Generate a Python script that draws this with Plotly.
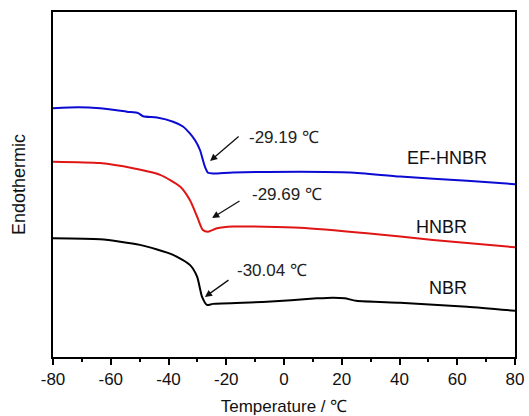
import plotly.graph_objects as go

# Temperature (°C) and heat flow (arbitrary units, offset curves)
ef_hnbr_x = [-80, -71.3, -63.7, -54.4, -50.5, -48.8, -44.0, -38.4, -35.0, -32.6, -30.8, -29.1, -27.4, -26.3, -24.5, -17.7, 5.5, 22.9, 40.2, 63.4, 80]
ef_hnbr_y = [72.1, 72.4, 72.1, 71.1, 70.7, 69.8, 69.4, 68.2, 66.8, 64.8, 62.8, 60.0, 55.2, 53.4, 53.2, 53.5, 53.7, 53.5, 52.3, 51.1, 50.1]

hnbr_x = [-80, -63.7, -52.3, -42.9, -36.0, -32.6, -30.1, -28.1, -26.3, -23.2, -17.7, 5.5, 28.7, 51.6, 80]
hnbr_y = [56.6, 56.2, 54.7, 52.8, 49.4, 45.5, 40.7, 36.8, 36.3, 37.3, 37.8, 37.5, 35.9, 33.9, 31.8]

nbr_x = [-80, -63.7, -49.9, -38.4, -32.6, -30.1, -28.4, -26.7, -24.6, -5.9, 11.4, 17.0, 21.0, 25.0, 40.2, 63.4, 80]
nbr_y = [34.4, 34.1, 32.5, 29.6, 26.7, 23.3, 17.5, 15.1, 15.4, 16.0, 17.0, 17.2, 17.0, 16.3, 15.7, 14.6, 13.4]

series_names = ["EF-HNBR", "HNBR", "NBR"]
tg_labels = ["-29.19 \u2103", "-29.69 \u2103", "-30.04 \u2103"]
x_ticks = [-80, -60, -40, -20, 0, 20, 40, 60, 80]

fig = go.Figure()
for xs, ys, c in [(ef_hnbr_x, ef_hnbr_y, "#0a0ad2"), (hnbr_x, hnbr_y, "#e01515"), (nbr_x, nbr_y, "#000000")]:
    fig.add_trace(go.Scatter(x=xs, y=ys, mode="lines", line=dict(color=c, width=2, shape="spline", smoothing=0.6),
                             showlegend=False, hoverinfo="skip", cliponaxis=True))

font = "Liberation Sans, Arial, sans-serif"
# arrows: (head x, head y, tail x, tail y), text pos
arrows = [(-25.6, 56.8, -15.2, 64.3, -12.8, 63.5),
          (-24.9, 40.3, -14.9, 45.5, -11.8, 47.2),
          (-27.4, 17.4, -18.7, 22.6, -17.0, 25.2)]
for (hx, hy, tx, ty, lx, ly), lab in zip(arrows, tg_labels):
    fig.add_annotation(x=hx, y=hy, ax=tx, ay=ty, axref="x", ayref="y", xref="x", yref="y",
                       showarrow=True, arrowhead=2, arrowsize=1.1, arrowwidth=1.3, arrowcolor="#111111", text="")
    fig.add_annotation(x=lx, y=ly, text=lab, showarrow=False, xanchor="left", yanchor="middle",
                       font=dict(family=font, size=17, color="#222222"))

for name, lx, ly in zip(series_names, [56.5, 54.7, 56.8], [57.7, 37.7, 20.0]):
    fig.add_annotation(x=lx, y=ly, text=name, showarrow=False, xanchor="center", yanchor="middle",
                       font=dict(family=font, size=18, color="#111111"))

fig.update_layout(
    width=529, height=416, autosize=False,
    margin=dict(l=53, r=14, t=12, b=59, autoexpand=False),
    plot_bgcolor="white", paper_bgcolor="white",
    font=dict(family=font, color="#111111"),
    xaxis=dict(range=[-80, 80], tickvals=x_ticks, ticktext=[str(v) for v in x_ticks],
               ticks="outside", ticklen=6, tickwidth=2, tickcolor="black", automargin=False,
               minor=dict(dtick=10, ticks="outside", ticklen=3, tickwidth=2, tickcolor="black"),
               showline=True, linecolor="black", linewidth=2, mirror=True, showgrid=False, zeroline=False,
               tickfont=dict(size=17), title=dict(text="Temperature / \u2103", font=dict(size=17), standoff=12)),
    yaxis=dict(range=[0, 100], showticklabels=False, ticks="", showline=True, linecolor="black",
               linewidth=2, mirror=True, showgrid=False, zeroline=False, automargin=False,
               title=dict(text="Endothermic", font=dict(size=18), standoff=21)),
)

post = (
    "document.documentElement.style.margin='0';"
    "document.documentElement.style.overflow='hidden';"
    "document.body.style.margin='0';"
    "document.body.style.overflow='hidden';"
    "var gd=document.getElementById('{plot_id}');"
    "gd.style.display='block';"
    "gd.parentElement.style.height='416px';"
    "gd.parentElement.style.overflow='hidden';"
)
fig.write_html("out.html", config={"displayModeBar": False}, post_script=post)
